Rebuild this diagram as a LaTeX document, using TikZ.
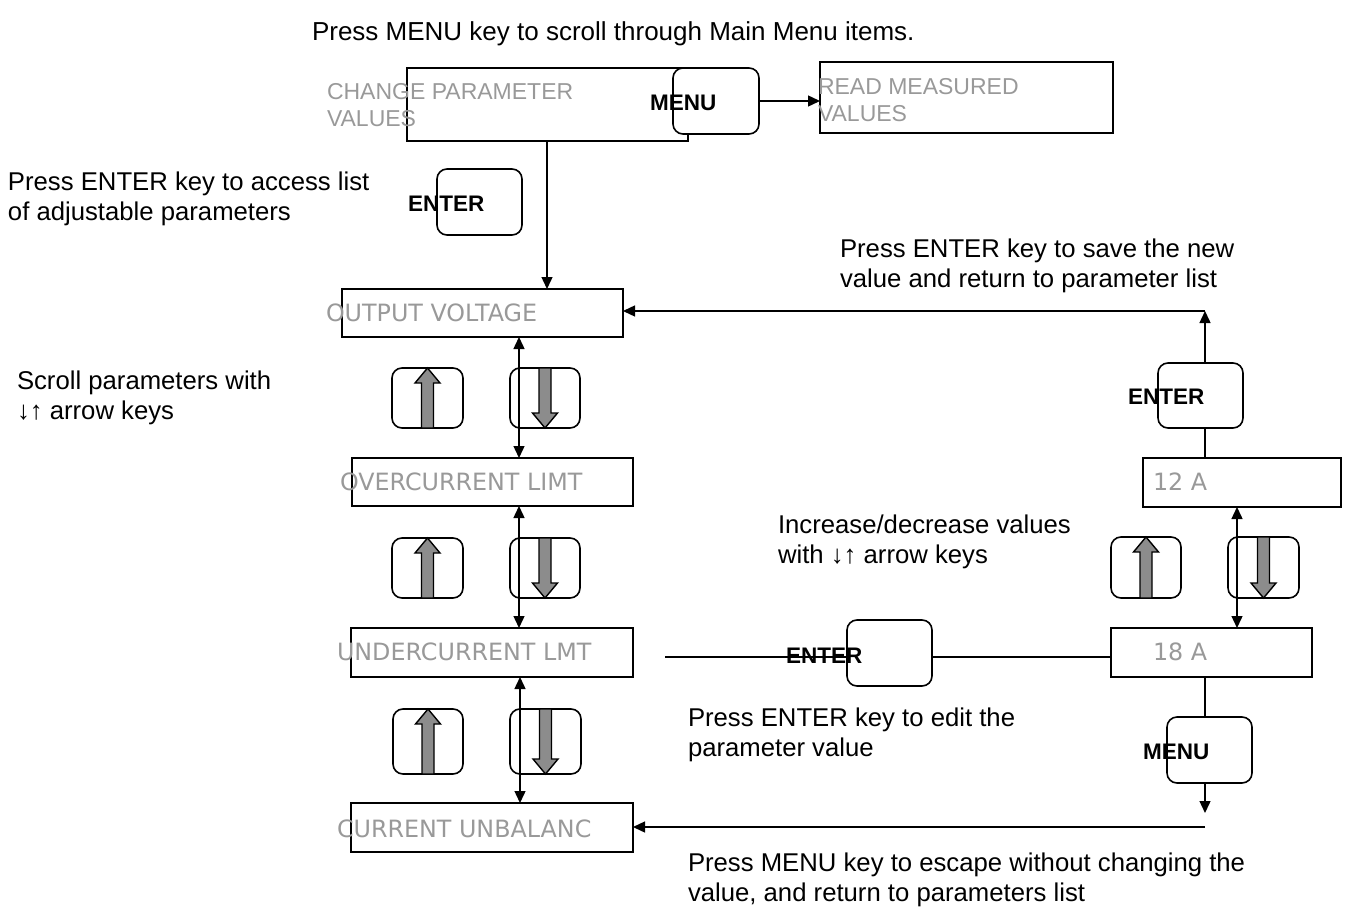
\documentclass[tikz,border=0pt]{standalone}
\usepackage{fontspec}
\setmainfont{Liberation Sans}
\newfontfamily\dvs{DejaVu Sans}
\usetikzlibrary{arrows.meta,calc}
\definecolor{lblgray}{HTML}{999999}
\definecolor{arrgray}{HTML}{8C8C8C}
\tikzset{
  every node/.style={outer sep=0pt},
  note/.style={anchor=west,inner sep=0pt,align=left,font=\fontsize{25.7}{29.5}\selectfont},
  glbl/.style={anchor=west,inner sep=0pt,align=left,text=lblgray,font=\fontsize{23}{27}\selectfont},
  dlbl/.style={anchor=west,inner sep=0pt,text=lblgray,font=\dvs\fontsize{23.8}{27}\selectfont},
  klbl/.style={anchor=west,inner sep=0pt,font=\bfseries\fontsize{22.5}{27}\selectfont},
  box/.style={draw,line width=1.8pt,minimum width=#1,inner sep=0pt},
  key/.style={draw,line width=1.6pt,rounded corners=10pt,inner sep=0pt},
  con/.style={line width=1.4pt},
  arr/.style={con,-{Triangle[length=12pt,width=11pt]}},
  darr/.style={con,{Triangle[length=12pt,width=11pt]}-{Triangle[length=12pt,width=11pt]}},
  blk/.style={fill=arrgray,draw=black,line width=1.4pt}
}
\newcommand\upblk[1]{\filldraw[blk] ($(#1.south)+(-6,0)$) -- ($(#1.north)+(-6,15)$) -- ($(#1.north)+(-12.5,15)$) -- (#1.north) -- ($(#1.north)+(12.5,15)$) -- ($(#1.north)+(6,15)$) -- ($(#1.south)+(6,0)$) -- cycle;}
\newcommand\dnblk[1]{\filldraw[blk] ($(#1.north)+(-6,0)$) -- ($(#1.south)+(-6,-15)$) -- ($(#1.south)+(-12.5,-15)$) -- (#1.south) -- ($(#1.south)+(12.5,-15)$) -- ($(#1.south)+(6,-15)$) -- ($(#1.north)+(6,0)$) -- cycle;}
\begin{document}
\begin{tikzpicture}[x=1pt,y=-1pt]
\useasboundingbox (0,0) rectangle (1348,909);
% helper coordinates
\coordinate (vx) at (547,0);
\coordinate (dl) at (519,0);
\coordinate (dr) at (1237,0);
\coordinate (vr) at (1205,0);
\coordinate (hl) at (0,657);
% boxes
\node[box=281pt,minimum height=73pt] (chg) at (547.5,104.5) {};
\node[box=293pt,minimum height=71pt] (read) at (966.5,97.5) {};
\node[box=281pt,minimum height=48pt] (ov) at (482.5,313) {};
\node[box=281pt,minimum height=48pt] (oc) at (492.5,482) {};
\node[box=282pt,minimum height=49pt] (uc) at (492,652.5) {};
\node[box=282pt,minimum height=49pt] (cu) at (492,827.5) {};
\node[box=198pt,minimum height=49pt] (v12) at (1242,482.5) {};
\node[box=201pt,minimum height=49pt] (v18) at (1211.5,652.5) {};
% keys with text
\node[key,fill=white,minimum width=86pt,minimum height=66pt] (km1) at (716,101) {};
\node[key,minimum width=85pt,minimum height=66pt] (ke1) at (479.5,202) {};
\node[key,minimum width=85pt,minimum height=65pt] (ke2) at (1200.5,395.5) {};
\node[key,minimum width=85pt,minimum height=66pt] (ke3) at (889.5,653) {};
\node[key,minimum width=85pt,minimum height=66pt] (km2) at (1209.5,750) {};
% arrow keys
\node[key,minimum width=71pt,minimum height=60pt] (u1) at (427.5,398) {};
\node[key,minimum width=70pt,minimum height=60pt] (d1) at (545,398) {};
\node[key,minimum width=71pt,minimum height=60pt] (u2) at (427.5,568) {};
\node[key,minimum width=70pt,minimum height=60pt] (d2) at (545,568) {};
\node[key,minimum width=70pt,minimum height=65pt] (u3) at (428,741.5) {};
\node[key,minimum width=71pt,minimum height=65pt] (d3) at (545.5,741.5) {};
\node[key,minimum width=70pt,minimum height=61pt] (u4) at (1146,567.5) {};
\node[key,minimum width=71pt,minimum height=61pt] (d4) at (1263.5,567.5) {};
\upblk{u1}\dnblk{d1}
\upblk{u2}\dnblk{d2}
\upblk{u3}\dnblk{d3}
\upblk{u4}\dnblk{d4}
% connectors
\draw[arr] (km1.east) -- (read.west |- km1.east);
\draw[arr] (chg.south -| vx) -- (ov.north -| vx);
\draw[darr] (ov.south -| dl) -- (oc.north -| dl);
\draw[darr] (oc.south -| dl) -- (uc.north -| dl);
\draw[darr] ($(uc.south -| dl)+(1,0)$) -- ($(cu.north -| dl)+(1,0)$);
\draw[darr] (v12.south -| dr) -- (v18.north -| dr);
\coordinate (c1) at (1205,311);
\draw[arr] (ke2.north -| vr) -- (c1);
\draw[arr] (c1) -- (ov.east |- c1);
\draw[con] (ke2.south -| vr) -- (v12.north -| vr);
\draw[con] (v18.south -| vr) -- (km2.north -| vr);
\coordinate (c4) at (1205,813);
\draw[arr] (km2.south -| vr) -- (c4);
\coordinate (c2) at (1205,827);
\draw[arr] (c2) -- (cu.east |- c2);
\coordinate (c3) at (665,657);
\draw[con] (c3) -- (ke3.west |- hl);
\draw[con] (ke3.east |- hl) -- (v18.west |- hl);
% key labels
\node[klbl] (tm1) at (650,103) {MENU};
\node[klbl] (te1) at (408,204) {ENTER};
\node[klbl] (te2) at (1128,397) {ENTER};
\node[klbl] (te3) at (786,656) {ENTER};
\node[klbl] (tm2) at (1143,752) {MENU};
% gray labels
\node[glbl] (tchg) at (327,105) {CHANGE PARAMETER\\VALUES};
\node[glbl] (tread) at (818,100) {READ MEASURED\\VALUES};
\node[dlbl] (tov) at (326,313) {OUTPUT VOLTAGE};
\node[dlbl] (toc) at (340,482) {OVERCURRENT LIMT};
\node[dlbl] (tuc) at (337,652) {UNDERCURRENT LMT};
\node[dlbl] (tcu) at (337,829) {CURRENT UNBALANC};
\node[dlbl] (t12) at (1153,482) {12 A};
\node[dlbl] (t18) at (1153,652) {18 A};
% notes
\node[note,font=\fontsize{26}{29.5}\selectfont] (n0) at (312,34) {Press MENU key to scroll through Main Menu items.};
\node[note] (n1) at (8,199) {Press ENTER key to access list\\of adjustable parameters};
\node[note] (n2) at (840,266) {Press ENTER key to save the new\\value and return to parameter list};
\node[note] (n3) at (17,398) {Scroll parameters with\\↓↑ arrow keys};
\node[note] (n4) at (778,542) {Increase/decrease values\\with ↓↑ arrow keys};
\node[note] (n5) at (688,735) {Press ENTER key to edit the\\parameter value};
\node[note] (n6) at (688,880) {Press MENU key to escape without changing the\\value, and return to parameters list};
\end{tikzpicture}
\end{document}
